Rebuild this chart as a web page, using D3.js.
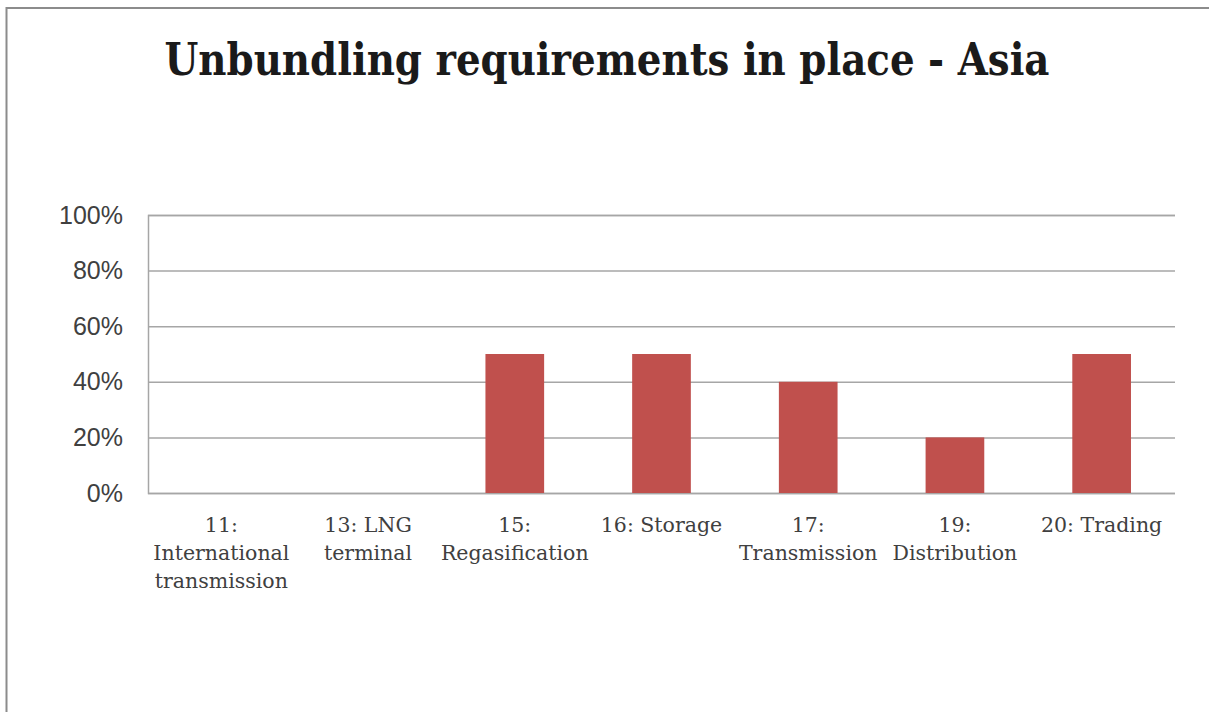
<!DOCTYPE html>
<html>
<head>
<meta charset="utf-8">
<script src="https://cdn.jsdelivr.net/npm/d3@7"></script>
<style>
  html, body { margin: 0; padding: 0; background: #fff; }
  svg { display: block; }
</style>
</head>
<body>
<svg id="chart" width="1209" height="712"></svg>
<script>
// Unbundling requirements by segment (share of Asian jurisdictions)
const categories = [
  "11: International transmission",
  "13: LNG terminal",
  "15: Regasification",
  "16: Storage",
  "17: Transmission",
  "19: Distribution",
  "20: Trading"
];
const values = [0, 0, 0.5, 0.5, 0.4, 0.2, 0.5];
const yTicks = [0, 0.2, 0.4, 0.6, 0.8, 1.0];
const title = "Unbundling requirements in place - Asia";

const svg = d3.select("#chart");
const W = 1209, H = 712;
const plot = { left: 148, right: 1175, top: 215, bottom: 493 };

// Frame around the chart area
svg.append("rect")
  .attr("x", 6.5).attr("y", 8)
  .attr("width", W + 20).attr("height", H + 20)
  .attr("fill", "#fff")
  .attr("stroke", "#8c8c8c")
  .attr("stroke-width", 2);

// Title
svg.append("text")
  .attr("x", 607).attr("y", 75)
  .attr("text-anchor", "middle")
  .attr("font-family", "'DejaVu Serif', serif")
  .attr("font-weight", "bold")
  .attr("font-size", 45)
  .attr("fill", "#1a1a1a")
  .attr("textLength", 885)
  .attr("lengthAdjust", "spacingAndGlyphs")
  .text(title);

const x = d3.scaleBand()
  .domain(categories)
  .range([plot.left, plot.right])
  .paddingInner(0.6)
  .paddingOuter(0.3);

const y = d3.scaleLinear()
  .domain([0, 1])
  .range([plot.bottom, plot.top]);

// Horizontal gridlines + y labels
const yAxis = d3.axisLeft(y)
  .tickValues(yTicks)
  .tickFormat(d3.format(".0%"))
  .tickSize(-(plot.right - plot.left))
  .tickPadding(25);

const gy = svg.append("g")
  .attr("transform", `translate(${plot.left},0)`)
  .call(yAxis);
gy.select(".domain").attr("stroke", "#a6a6a6").attr("stroke-width", 1.5);
gy.selectAll(".tick line").attr("stroke", "#a6a6a6").attr("stroke-width", 1.5);
gy.selectAll(".tick text")
  .attr("font-family", "'Liberation Sans', Arial, sans-serif")
  .attr("font-size", 25)
  .attr("fill", "#404040");

// Bars
svg.append("g")
  .selectAll("rect")
  .data(values)
  .join("rect")
  .attr("x", (d, i) => x(categories[i]))
  .attr("width", x.bandwidth())
  .attr("y", d => y(d))
  .attr("height", d => y(0) - y(d))
  .attr("fill", "#C0504D");

// Category axis (labels only, wrapped to the band width)
const gx = svg.append("g")
  .attr("transform", `translate(0,${plot.bottom})`)
  .call(d3.axisBottom(x).tickSize(0).tickPadding(0));
gx.select(".domain").remove();

const step = x.step();
gx.selectAll(".tick text")
  .attr("font-family", "'DejaVu Serif', serif")
  .attr("font-size", 20.5)
  .attr("fill", "#404040")
  .attr("y", 0)
  .attr("dy", null)
  .each(function(label) {
    const t = d3.select(this);
    const words = label.split(/\s+/);
    t.text(null);
    const lines = [];
    let line = [];
    const probe = t.append("tspan");
    words.forEach(w => {
      const trial = line.concat(w).join(" ");
      probe.text(trial);
      if (line.length && probe.node().getComputedTextLength() > step - 4) {
        lines.push(line.join(" "));
        line = [w];
      } else {
        line.push(w);
      }
    });
    lines.push(line.join(" "));
    probe.remove();
    lines.forEach((ln, i) => {
      t.append("tspan")
        .attr("x", 0)
        .attr("y", 39 + i * 28)
        .text(ln);
    });
  });
</script>
</body>
</html>
